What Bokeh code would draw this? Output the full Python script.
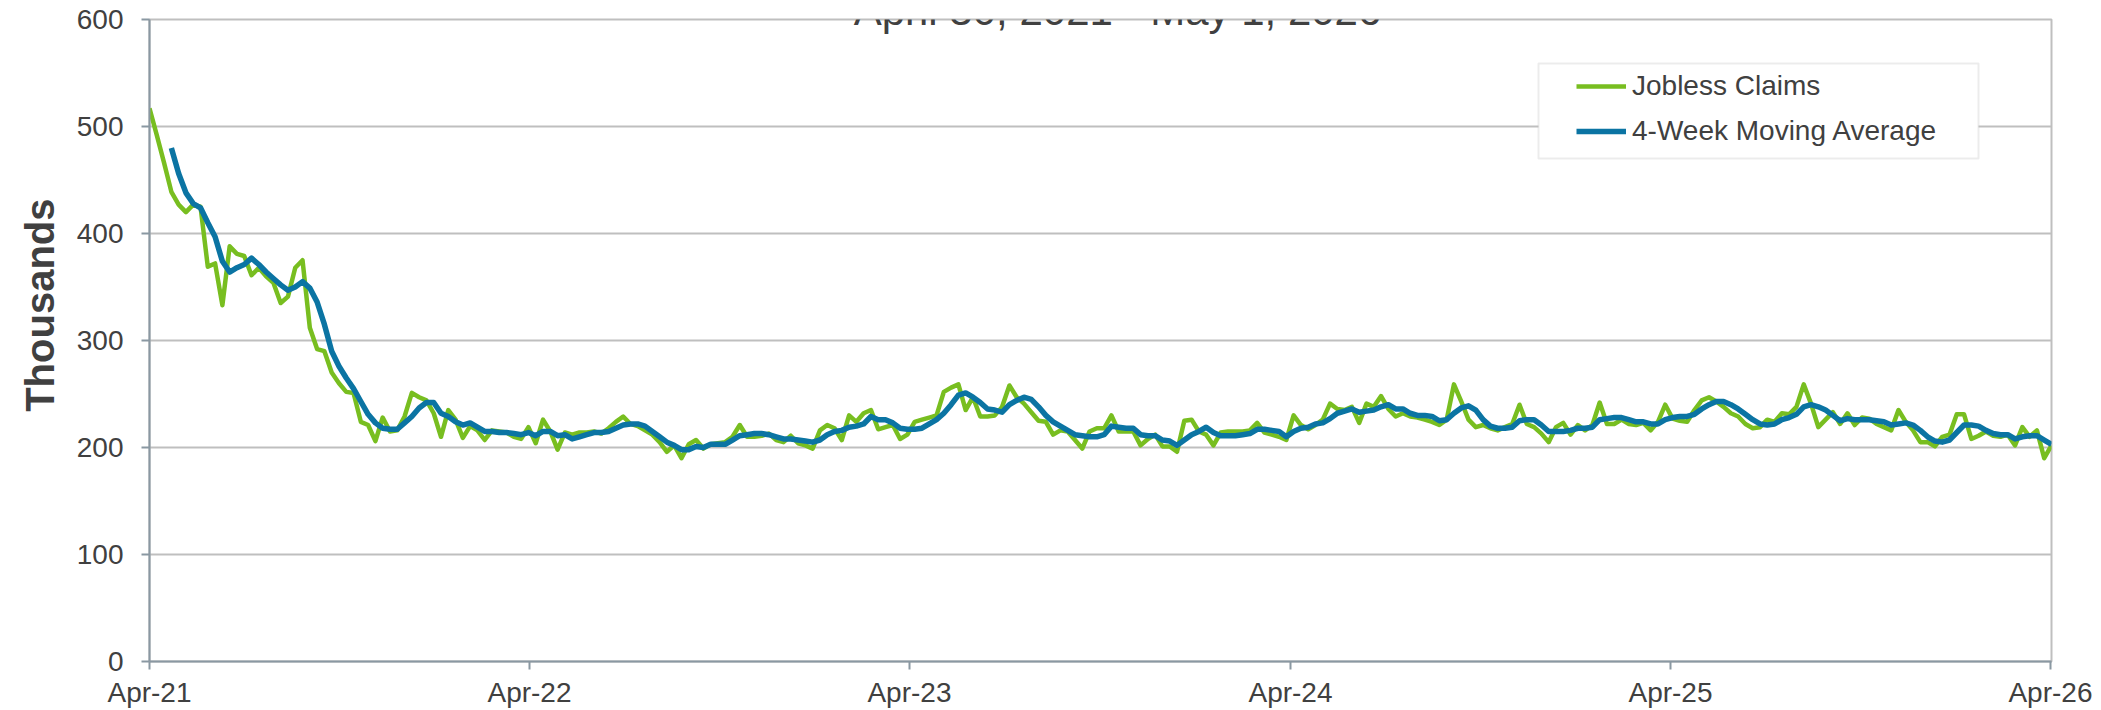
import numpy as np
import pandas as pd
from bokeh.plotting import figure
from bokeh.models import FixedTicker, Legend, LegendItem, Label, BoxAnnotation, Range1d, Title
from bokeh.embed import file_html
from bokeh.resources import INLINE

# ---------------- data ----------------
start_date = "2021-04-30"
title_text = "April 30, 2021 - May 1, 2026"
y_title = "Thousands"
series_names = ["Jobless Claims", "4-Week Moving Average"]

jobless_claims = [
    517, 492, 466, 439, 427, 420, 427, 425, 369, 372,
    333, 388, 381, 379, 361, 368, 360, 354, 335, 341,
    368, 375, 312, 292, 290, 270, 260, 252, 251, 224,
    221, 206, 228, 215, 216, 229, 251, 247, 244, 232,
    210, 235, 226, 209, 220, 216, 207, 216, 215, 214,
    210, 208, 219, 204, 226, 215, 198, 214, 212, 214,
    214, 215, 213, 218, 224, 229, 222, 220, 216, 212,
    205, 196, 202, 190, 203, 207, 199, 203, 204, 205,
    210, 221, 210, 210, 211, 213, 207, 205, 211, 204,
    202, 199, 216, 221, 218, 207, 230, 224, 232, 235,
    217, 219, 221, 208, 212, 224, 226, 228, 230, 252,
    256, 259, 235, 247, 229, 229, 230, 238, 258, 247,
    241, 233, 225, 224, 212, 216, 215, 207, 199, 215,
    218, 218, 230, 215, 215, 215, 202, 208, 212, 201,
    201, 196, 225, 226, 215, 212, 202, 214, 215, 215,
    215, 216, 223, 214, 212, 210, 207, 230, 221, 217,
    221, 226, 241, 236, 235, 238, 223, 241, 238, 248,
    236, 229, 232, 229, 228, 226, 224, 221, 226, 259,
    243, 226, 219, 221, 218, 216, 219, 222, 240, 222,
    219, 213, 205, 219, 223, 212, 221, 216, 221, 242,
    222, 222, 226, 222, 221, 223, 216, 224, 240, 227,
    225, 224, 235, 244, 247, 243, 238, 232, 229, 222,
    218, 219, 226, 224, 232, 231, 238, 259, 241, 219,
    226, 233, 222, 232, 221, 228, 227, 222, 219, 216,
    235, 224, 216, 205, 205, 201, 210, 212, 231, 231,
    208, 211, 215, 211, 210, 212, 202, 219, 210, 216,
    190, 202,
]

moving_average = [
    None, None, None, 480, 456, 438, 428, 424, 410, 397,
    374, 364, 368, 371, 377, 371, 364, 358, 352, 347,
    350, 355, 349, 336, 315, 290, 276, 265, 255, 243,
    231, 223, 218, 217, 217, 223, 229, 237, 242, 242,
    232, 229, 224, 221, 223, 219, 215, 215, 214, 214,
    213, 212, 214, 211, 215, 215, 211, 212, 208, 210,
    212, 214, 214, 215, 218, 221, 222, 222, 220, 215,
    210, 205, 202, 198, 198, 201, 200, 203, 203, 203,
    207, 211, 212, 213, 213, 212, 210, 208, 208, 207,
    206, 205, 207, 212, 215, 216, 219, 220, 222, 229,
    226, 226, 223, 218, 217, 217, 218, 222, 226, 232,
    240, 249, 251, 247, 242, 236, 235, 233, 240, 244,
    247, 245, 238, 230, 224, 220, 216, 212, 211, 210,
    210, 212, 220, 219, 218, 218, 212, 211, 211, 207,
    206, 202, 207, 212, 215, 219, 214, 211, 211, 211,
    212, 213, 217, 217, 216, 215, 210, 215, 218, 219,
    222, 223, 227, 232, 234, 236, 233, 234, 235, 238,
    240, 236, 236, 232, 230, 230, 229, 225, 226, 232,
    237, 239, 235, 226, 220, 218, 218, 219, 225, 226,
    226, 221, 215, 215, 215, 216, 218, 218, 219, 226,
    227, 228, 228, 226, 224, 224, 222, 222, 226, 228,
    229, 229, 231, 236, 240, 243, 243, 240, 236, 231,
    226, 222, 221, 222, 226, 228, 231, 238, 240, 238,
    235, 230, 225, 227, 226, 226, 226, 225, 224, 221,
    222, 223, 221, 216, 210, 206, 205, 207, 214, 221,
    221, 220, 216, 213, 212, 212, 208, 210, 211, 211,
    207, 203,
]

x_tick_dates = ["2021-04-30", "2022-04-30", "2023-04-30", "2024-04-30", "2025-04-30", "2026-04-30"]
x_tick_labels = ["Apr-21", "Apr-22", "Apr-23", "Apr-24", "Apr-25", "Apr-26"]
y_ticks = [0, 100, 200, 300, 400, 500, 600]

# ---------------- build ----------------
dates = pd.date_range(start_date, periods=len(jobless_claims), freq="7D")
ma = np.array([np.nan if v is None else v for v in moving_average], dtype=float)

GREEN = "#78BE20"
BLUE = "#0B74A3"
GRID = "#BFBFBF"
AXIS = "#8A98A2"
TXT = "#404040"
FONT = "Liberation Sans"

W, H = 2101, 710
# frame geometry (canvas pixels)
FL, FR, FT, FB = 149, 2051, 19, 661

p = figure(width=W, height=H, x_axis_type="datetime", output_backend="svg",
           toolbar_location=None,
           x_range=Range1d(dates[0], dates[-1]), y_range=Range1d(0, 600),
           min_border_left=FL, min_border_right=W - FR,
           min_border_top=FT, min_border_bottom=H - FB)
p.background_fill_color = "white"
p.border_fill_color = "white"
p.outline_line_color = GRID
p.outline_line_width = 2

t0 = dates[0].value / 1e6
t1 = dates[-1].value / 1e6

def px2x(px):
    return t0 + (px - FL) / (FR - FL) * (t1 - t0)

def py2y(py):
    return (FB - py) / (FB - FT) * 600.0

p.xgrid.visible = False
p.ygrid.grid_line_color = GRID
p.ygrid.grid_line_width = 2

tick_ms = [pd.Timestamp(d).value / 1e6 for d in x_tick_dates]
p.xaxis.ticker = FixedTicker(ticks=tick_ms)
p.xaxis.major_label_overrides = {t: lab for t, lab in zip(tick_ms, x_tick_labels)}
p.yaxis.ticker = FixedTicker(ticks=y_ticks)

for ax in (p.xaxis, p.yaxis):
    ax.axis_line_color = AXIS
    ax.axis_line_width = 2
    ax.major_tick_line_color = AXIS
    ax.major_tick_line_width = 2
    ax.major_tick_out = 8
    ax.major_tick_in = 0
    ax.minor_tick_line_color = None
    ax.major_label_text_font = FONT
    ax.major_label_text_font_size = "28px"
    ax.major_label_text_color = TXT
p.xaxis.major_label_standoff = 7
p.yaxis.major_label_standoff = 18

r1 = p.line(dates, jobless_claims, line_color=GREEN, line_width=4.5, line_join="round")
r2 = p.line(dates, ma, line_color=BLUE, line_width=5.5, line_join="round")

box = BoxAnnotation(left=px2x(1538), right=px2x(1978), top=py2y(63), bottom=py2y(158),
                    fill_color="white", fill_alpha=1.0, line_color=GRID, line_width=2)
p.add_layout(box)

legend = Legend(items=[LegendItem(label=series_names[0], renderers=[r1]),
                       LegendItem(label=series_names[1], renderers=[r2])],
                location=(1576 - FL, FB - 147), padding=0, margin=0,
                border_line_alpha=0, background_fill_alpha=0,
                glyph_width=50, glyph_height=32, label_height=32,
                label_standoff=6, spacing=13,
                label_text_font=FONT, label_text_font_size="28px",
                label_text_color=TXT)
p.add_layout(legend)

title = Label(x=px2x(1117), y=py2y(10), text=title_text, text_align="center",
              text_baseline="alphabetic", text_font=FONT, text_font_size="42px",
              text_color=TXT)
p.add_layout(title)

ytitle = Title(text=y_title, align="right", offset=179, standoff=23,
               text_font=FONT, text_font_size="40px", text_font_style="bold",
               text_color=TXT)
p.add_layout(ytitle, "left")

open("out.html", "w").write(file_html(p, INLINE))
